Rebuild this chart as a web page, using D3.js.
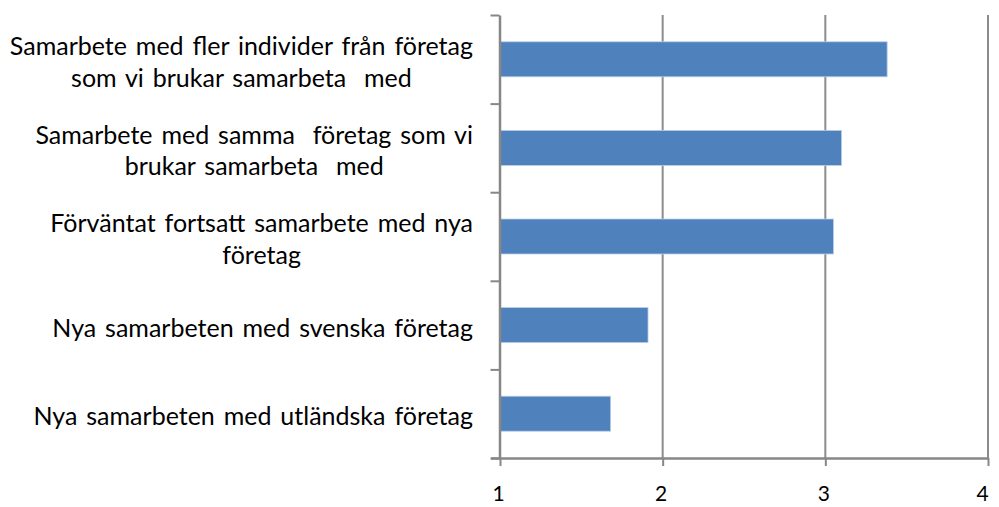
<!DOCTYPE html>
<html>
<head>
<meta charset="utf-8">
<script src="https://cdn.jsdelivr.net/npm/d3@7"></script>
<style>
  html, body { margin: 0; padding: 0; background: #fff; }
  svg { display: block; }
  text { font-family: Lato, "Open Sans", sans-serif; fill: #000; white-space: pre; }
</style>
</head>
<body>
<svg id="chart" width="999" height="507"></svg>
<script>
const categories = [
  "Samarbete med fler individer från företag\nsom vi brukar samarbeta  med",
  "Samarbete med samma  företag som vi\nbrukar samarbeta  med",
  "Förväntat fortsatt samarbete med nya\nföretag",
  "Nya samarbeten med svenska företag",
  "Nya samarbeten med utländska företag"
];
const values = [3.38, 3.10, 3.05, 1.91, 1.68];
const xTicks = [1, 2, 3, 4];

(function () {
const svg = d3.select("#chart");
const pLeft = 500, pRight = 988, pTop = 15, pBottom = 458;
const axisColor = "#878787";
const fontSize = 25;

const x = d3.scaleLinear().domain([1, 4]).range([pLeft, pRight]);
const y = d3.scaleBand().domain(categories).range([pTop, pBottom])
  .paddingInner(0.605).paddingOuter(0.3025);

// gridlines
svg.append("g").selectAll("line").data(xTicks.slice(1)).join("line")
  .attr("x1", d => x(d)).attr("x2", d => x(d))
  .attr("y1", pTop).attr("y2", pBottom)
  .attr("stroke", "#8c8c8c").attr("stroke-width", 2);

// bars
svg.append("g").selectAll("rect").data(values).join("rect")
  .attr("x", x(1))
  .attr("y", (d, i) => y(categories[i]))
  .attr("width", d => x(d) - x(1))
  .attr("height", y.bandwidth())
  .attr("fill", "#4f81bd")
  .attr("stroke", "#b9cde5").attr("stroke-width", 0.8);

// x axis
const xAxis = svg.append("g").attr("transform", `translate(0,${pBottom})`)
  .call(d3.axisBottom(x).tickValues(xTicks).tickFormat(d3.format("d")).tickSize(8).tickSizeOuter(0));
xAxis.select(".domain").attr("stroke", axisColor).attr("stroke-width", 2.5)
  .attr("d", `M${pLeft - 9},0.5H${pRight}`);
xAxis.selectAll(".tick line").attr("stroke", axisColor).attr("stroke-width", 2);
xAxis.selectAll(".tick text").attr("font-size", 21).attr("font-family", "Lato, sans-serif")
  .attr("y", 0).attr("dy", 0)
  .attr("transform", (d, i) => `translate(${i === xTicks.length - 1 ? -6 : -2},43)`)
  .attr("fill", "#000");

// y axis with ticks at band boundaries
const yb = d3.scaleLinear().domain([0, categories.length]).range([pTop, pBottom]);
const yAxis = svg.append("g").attr("transform", `translate(${pLeft - 0.5},0)`)
  .call(d3.axisLeft(yb).ticks(categories.length).tickFormat("").tickSize(9).tickSizeOuter(0));
yAxis.select(".domain").attr("stroke", axisColor).attr("stroke-width", 2.5);
yAxis.selectAll(".tick line").attr("stroke", axisColor).attr("stroke-width", 2);

// category labels: block right-aligned at 473, lines centered in block
const labelRight = 473, lineH = 31.7;
categories.forEach(c => {
  const lines = c.split("\n");
  const cy = y(c) + y.bandwidth() / 2;
  const g = svg.append("g");
  const texts = lines.map((ln, i) => g.append("text")
    .attr("font-size", fontSize)
    .attr("word-spacing", 2.5)
    .attr("text-anchor", "middle")
    .attr("y", cy + 11.5 + (i - (lines.length - 1) / 2) * lineH)
    .text(ln));
  const w = d3.max(texts, t => t.node().getComputedTextLength());
  texts.forEach(t => t.attr("x", labelRight - w / 2));
});
})();
</script>
</body>
</html>
